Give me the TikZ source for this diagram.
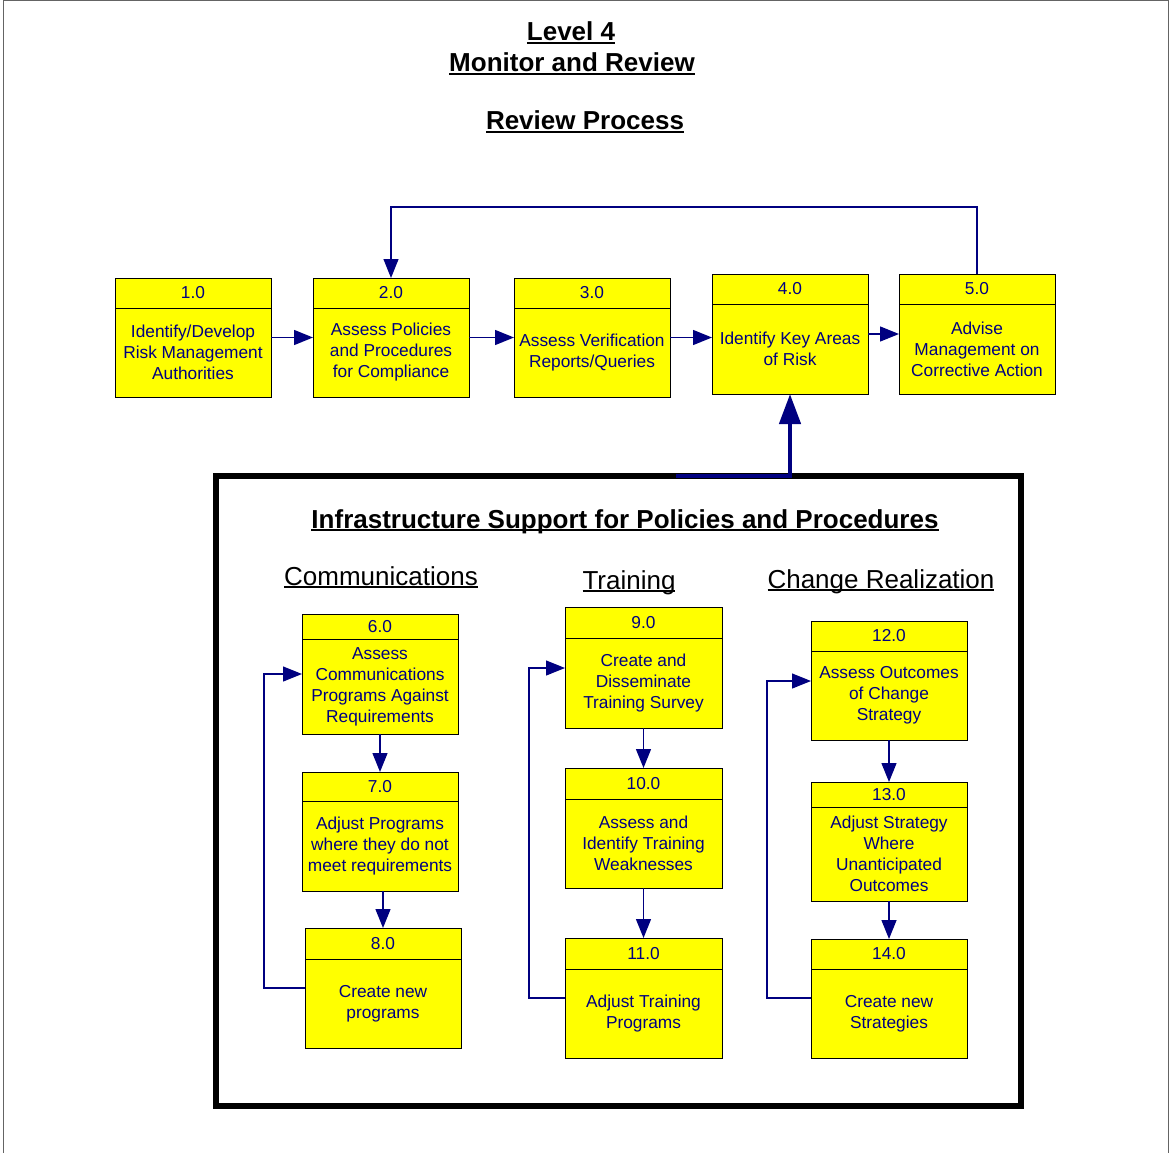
\documentclass[tikz,border=0pt]{standalone}
\usepackage{fontspec}
\setmainfont{Liberation Sans}
\usetikzlibrary{arrows.meta}

\definecolor{boxyellow}{RGB}{255,255,0}
\definecolor{navyink}{RGB}{0,0,128}
\definecolor{pageframe}{RGB}{100,100,100}

% underline at a fixed depth below the baseline
\newcommand{\ulbox}[1]{\setbox0\hbox{#1}\leavevmode\rlap{\rule[-0.13em]{\wd0}{0.075em}}\box0}

\tikzset{
  x=1pt, y=-1pt,
  procbox/.style={draw=black, line width=0.9pt, fill=boxyellow, inner sep=0pt, outer sep=0pt},
  boxtext/.style={text=navyink, font=\fontsize{17.3}{21}\selectfont, align=center, inner sep=0pt},
  flow/.style={draw=navyink, line width=1.4pt, -{Triangle[length=19pt,width=15pt]}},
  loopline/.style={draw=navyink, line width=1.2pt, -{Triangle[length=19pt,width=15pt]}},
  bigflow/.style={draw=navyink, line width=4.5pt, -{Triangle[length=30pt,width=21pt]}},
  heading/.style={font=\fontsize{26}{30}\selectfont, anchor=base, inner sep=0pt},
}

% process box: name, left, top, right, bottom, divider, number, text
\newcommand{\procnode}[8]{%
  \node[procbox, minimum width={#4-#2}, minimum height={#5-#3}] (#1) at ({(#2+#4)/2},{(#3+#5)/2}) {};
  \draw[line width=0.9pt] (#1.west |- 0,#6) -- (#1.east |- 0,#6);
  \node[boxtext] (#1num) at ({(#2+#4)/2},{(#3+#6)/2}) {#7};
  \node[boxtext] (#1txt) at ({(#2+#4)/2},{(#6+#5)/2}) {#8};
}

\begin{document}
\begin{tikzpicture}
\useasboundingbox (0,0) rectangle (1170,1153);
\fill[white] (0,0) rectangle (1170,1153);
\draw[pageframe, line width=1pt] (3,1153) -- (3,1) -- (1168,1) -- (1168,1153);

% titles
\node[heading] (lvl) at (571,41) {\bfseries\ulbox{Level 4}};
\node[heading] (mr) at (572,72) {\bfseries\ulbox{Monitor and Review}};
\node[heading] (rp) at (585,130) {\bfseries\ulbox{Review Process}};

% review process chain
\procnode{n1}{115}{278}{271}{397}{308}{1.0}{Identify/Develop\\Risk Management\\Authorities}
\procnode{n2}{313}{278}{469}{397}{308}{2.0}{Assess Policies\\and Procedures\\for Compliance}
\procnode{n3}{514}{278}{670}{397}{308}{3.0}{Assess Verification\\Reports/Queries}
\procnode{n4}{712}{274}{868}{394}{304}{4.0}{Identify Key Areas\\of Risk}
\procnode{n5}{899}{274}{1055}{394}{304}{5.0}{Advise\\Management on\\Corrective Action}

\draw[flow] (n1.east) -- (n2.west);
\draw[flow] (n2.east) -- (n3.west);
\draw[flow] (n3.east) -- (n3.east -| n4.west);
\draw[flow] (n4.east) -- (n5.west);
\coordinate (feedback) at (680,207);
\draw[loopline] (n5.north) |- (feedback) -| (n2.north);

% infrastructure frame
\node[draw=black, line width=5.5pt, minimum width=805, minimum height=630, inner sep=0pt] (infra) at (618.5,791) {};
\node[heading] (infratitle) at (625,528) {\bfseries\ulbox{Infrastructure Support for Policies and Procedures}};
\node[heading] (comm) at (381,585) {\ulbox{Communications}};
\node[heading] (train) at (629,589) {\ulbox{Training}};
\node[heading] (change) at (881,588) {\ulbox{Change Realization}};

\coordinate (infrajoin) at (676,476);
\draw[bigflow] (infrajoin) -- (infrajoin -| n4.south) -- (n4.south);

% communications column
\procnode{n6}{302}{614}{458}{734}{639}{6.0}{Assess\\Communications\\Programs Against\\Requirements}
\procnode{n7}{302}{772}{458}{891}{801}{7.0}{Adjust Programs\\where they do not\\meet requirements}
\procnode{n8}{305}{928}{461}{1048}{959}{8.0}{Create new\\programs}
\draw[flow] (n6.south) -- (n7.north);
\draw[flow] (n8.north |- n7.south) -- (n8.north);
\coordinate (commlow) at (264,988);
\coordinate (commhigh) at (264,674);
\draw[loopline] (commlow -| n8.west) -- (commlow) -- (commhigh) -- (commhigh -| n6.west);

% training column
\procnode{n9}{565}{607}{722}{728}{638}{9.0}{Create and\\Disseminate\\Training Survey}
\procnode{n10}{565}{768}{722}{888}{799}{10.0}{Assess and\\Identify Training\\Weaknesses}
\procnode{n11}{565}{938}{722}{1058}{969}{11.0}{Adjust Training\\Programs}
\draw[flow] (n9.south) -- (n10.north);
\draw[flow] (n10.south) -- (n11.north);
\coordinate (trainlow) at (529,998);
\coordinate (trainhigh) at (529,668);
\draw[loopline] (trainlow -| n11.west) -- (trainlow) -- (trainhigh) -- (trainhigh -| n9.west);

% change realization column
\procnode{n12}{811}{621}{967}{740}{651}{12.0}{Assess Outcomes\\of Change\\Strategy}
\procnode{n13}{811}{782}{967}{901}{807}{13.0}{Adjust Strategy\\Where\\Unanticipated\\Outcomes}
\procnode{n14}{811}{939}{967}{1058}{969}{14.0}{Create new\\Strategies}
\draw[flow] (n12.south) -- (n13.north);
\draw[flow] (n13.south) -- (n14.north);
\coordinate (changelow) at (767,998);
\coordinate (changehigh) at (767,681);
\draw[loopline] (changelow -| n14.west) -- (changelow) -- (changehigh) -- (changehigh -| n12.west);
\end{tikzpicture}
\end{document}
